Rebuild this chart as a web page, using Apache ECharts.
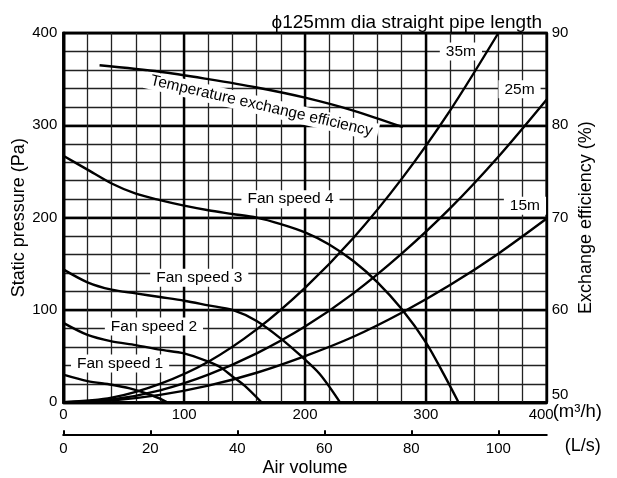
<!DOCTYPE html>
<html>
<head>
<meta charset="utf-8">
<script src="https://cdn.jsdelivr.net/npm/echarts@6/dist/echarts.min.js"></script>
<style>html,body{margin:0;padding:0;background:#fff;}#c{width:617px;height:478px;}</style>
</head>
<body>
<div id="c"></div>
<script>
// ---- data ----
const pressureTicks = [0, 100, 200, 300, 400];        // Pa
const flowTicks = [0, 100, 200, 300, 400];            // m3/h
const effTicks = [50, 60, 70, 80, 90];                // %
const lsTicks = [0, 20, 40, 60, 80, 100];             // L/s

const fan1 = [[0,30],[20,23],[40,19],[55,15],[70,9],[80,4],[86,0]];
const fan2 = [[0,86],[20,73],[40,66],[60,62],[80,57],[100,53],[120,44],[130,38],[140,28],[150,18],[164,0]];
const fan3 = [[0,144],[20,130],[40,122],[60,118],[80,114],[100,110],[120,105],[140,100],[160,88],[180,69],[196,51],[212,31],[229,0]];
const fan4 = [[0,267],[20,252],[40,237],[60,226],[80,219],[100,213],[120,208],[140,204],[160,200],[180,193],[200,184],[220,171],[240,153],[260,130],[280,101],[300,65],[315,30],[327,0]];
const pipe35 = [[0,0],[40,5],[80,20],[120,44],[160,79],[200,124],[240,178],[280,242],[320,316],[360,400]];
const pipe25 = [[0,0],[40,3],[80,13],[120,30],[160,53],[200,82],[240,118],[280,161],[320,210],[360,266],[400,328]];
const pipe15 = [[0,0],[40,2],[80,8],[120,18],[160,32],[200,50],[240,71],[280,97],[320,127],[360,161],[400,199]];
const efficiency = [[30,86.5],[80,85.8],[120,85.0],[160,84.1],[200,83.0],[240,81.6],[281,79.8]];

const curveLabels = ['35m', '25m', '15m', 'Fan speed 4', 'Fan speed 3', 'Fan speed 2', 'Fan speed 1', 'Temperature exchange efficiency'];
const curveLabelAt = [[329,380],[377.5,339],[382,213],[188,220],[112.5,135],[75,82],[47,42],[164,321]];
const curveLabelRotate = [0,0,0,0,0,0,0,-13];

// ---- chart ----
const FONT = '"Liberation Sans", Arial, Helvetica, sans-serif';
const chart = echarts.init(document.getElementById('c'), null, {renderer: 'canvas'});

function curve(data, yAxisIndex) {
  return {
    type: 'line', data: data, xAxisIndex: 0, yAxisIndex: yAxisIndex || 0,
    smooth: 0.3, symbol: 'none', clip: true, z: 5,
    lineStyle: {color: '#000', width: 2.4}, silent: true
  };
}

const labelData = curveLabels.map((t, i) => ({
  value: curveLabelAt[i], name: t,
  label: {rotate: curveLabelRotate[i]}
}));

const option = {
  backgroundColor: '#fff',
  animation: false,
  textStyle: {fontFamily: FONT, color: '#000'},
  title: {
    text: '\u03D5125mm dia straight pipe length',
    right: 70, top: 8,
    textStyle: {fontFamily: FONT, fontSize: 19, fontWeight: 'normal', color: '#000'}
  },
  grid: {left: 63.3, right: 70.3, top: 33, bottom: 75.7, containLabel: false, outerBoundsMode: 'none',
    show: true, borderColor: '#000', borderWidth: 2.4, backgroundColor: 'transparent'},
  xAxis: [
    {
      type: 'value', min: 0, max: 400, interval: 20, position: 'bottom',
      name: '(m\u00B3/h)', nameLocation: 'end', nameGap: 6, nameMoveOverlap: false,
      nameTextStyle: {fontFamily: FONT, fontSize: 18.5, color: '#000', verticalAlign: 'top', padding: [0,0,0,0]},
      axisLine: {show: true, lineStyle: {color: '#000', width: 2.4}},
      axisTick: {show: false},
      axisLabel: {
        fontFamily: FONT, fontSize: 15, color: '#000', margin: 5,
        formatter: v => flowTicks.indexOf(v) < 0 ? '' : (v === 400 ? '{a|400}' : String(v)),
        rich: {a: {fontFamily: FONT, fontSize: 15, color: '#000', padding: [0, 11, 0, 0]}}
      },
      splitLine: {show: true, lineStyle: {color: '#222', width: 1.3}}
    },
    {
      type: 'value', min: 0, max: 400, interval: 100, position: 'bottom',
      axisLine: {show: false}, axisTick: {show: false}, axisLabel: {show: false},
      splitLine: {show: true, lineStyle: {color: '#000', width: 2.4}}
    },
    {
      type: 'value', min: 0, max: 400 / 3.6, interval: 20, position: 'bottom', offset: 32,
      name: '(L/s)', nameLocation: 'end', nameGap: 18, nameMoveOverlap: false,
      nameTextStyle: {fontFamily: FONT, fontSize: 18, color: '#000', verticalAlign: 'top', padding: [3,0,0,0]},
      axisLine: {show: true, lineStyle: {color: '#000', width: 2.2}},
      axisTick: {show: true, inside: true, length: 4, customValues: lsTicks, lineStyle: {color: '#000', width: 2}},
      axisLabel: {fontFamily: FONT, fontSize: 15, color: '#000', margin: 7, customValues: lsTicks},
      splitLine: {show: false}
    },
    {
      type: 'value', min: 0, max: 400, position: 'bottom', offset: 32,
      name: 'Air volume', nameLocation: 'middle', nameGap: 25, nameMoveOverlap: false,
      nameTextStyle: {fontFamily: FONT, fontSize: 18, color: '#000'},
      axisLine: {show: false}, axisTick: {show: false}, axisLabel: {show: false}, splitLine: {show: false}
    }
  ],
  yAxis: [
    {
      type: 'value', min: 0, max: 400, interval: 20, position: 'left',
      name: 'Static pressure (Pa)', nameLocation: 'middle', nameGap: 35, nameRotate: 90, nameMoveOverlap: false,
      nameTextStyle: {fontFamily: FONT, fontSize: 18, color: '#000'},
      axisLine: {show: true, lineStyle: {color: '#000', width: 2.4}},
      axisTick: {show: false},
      axisLabel: {fontFamily: FONT, fontSize: 15, color: '#000', margin: 6,
        formatter: v => pressureTicks.indexOf(v) < 0 ? '' : String(v)},
      splitLine: {show: true, lineStyle: {color: '#222', width: 1.3}}
    },
    {
      type: 'value', min: 0, max: 400, interval: 100, position: 'left',
      axisLine: {show: false}, axisTick: {show: false}, axisLabel: {show: false},
      splitLine: {show: true, lineStyle: {color: '#000', width: 2.4}}
    },
    {
      type: 'value', min: 50, max: 90, interval: 10, position: 'right',
      name: 'Exchange efficiency (%)', nameLocation: 'middle', nameGap: 30, nameRotate: 90, nameMoveOverlap: false,
      nameTextStyle: {fontFamily: FONT, fontSize: 18, color: '#000'},
      axisLine: {show: true, lineStyle: {color: '#000', width: 2.4}},
      axisTick: {show: false},
      axisLabel: {fontFamily: FONT, fontSize: 15, color: '#000', margin: 5,
        formatter: v => effTicks.indexOf(v) < 0 ? '' : (v === 50 ? '{b|50}' : String(v)),
        rich: {b: {fontFamily: FONT, fontSize: 15, color: '#000', padding: [0, 0, 14, 0]}}},
      splitLine: {show: false}
    }
  ],
  series: [
    curve(fan1), curve(fan2), curve(fan3), curve(fan4),
    curve(pipe35), curve(pipe25), curve(pipe15),
    curve(efficiency, 2),
    {
      type: 'scatter', xAxisIndex: 0, yAxisIndex: 0, data: labelData,
      symbolSize: 1, itemStyle: {color: 'rgba(0,0,0,0)'}, z: 4, silent: true,
      labelLayout: {hideOverlap: false},
      label: {
        show: true, position: 'inside', formatter: p => p.name,
        fontFamily: FONT, fontSize: 15.5, color: '#000', opacity: 1,
        backgroundColor: '#fff', padding: [1, 6]
      }
    }
  ]
};
chart.setOption(option);
</script>
</body>
</html>
